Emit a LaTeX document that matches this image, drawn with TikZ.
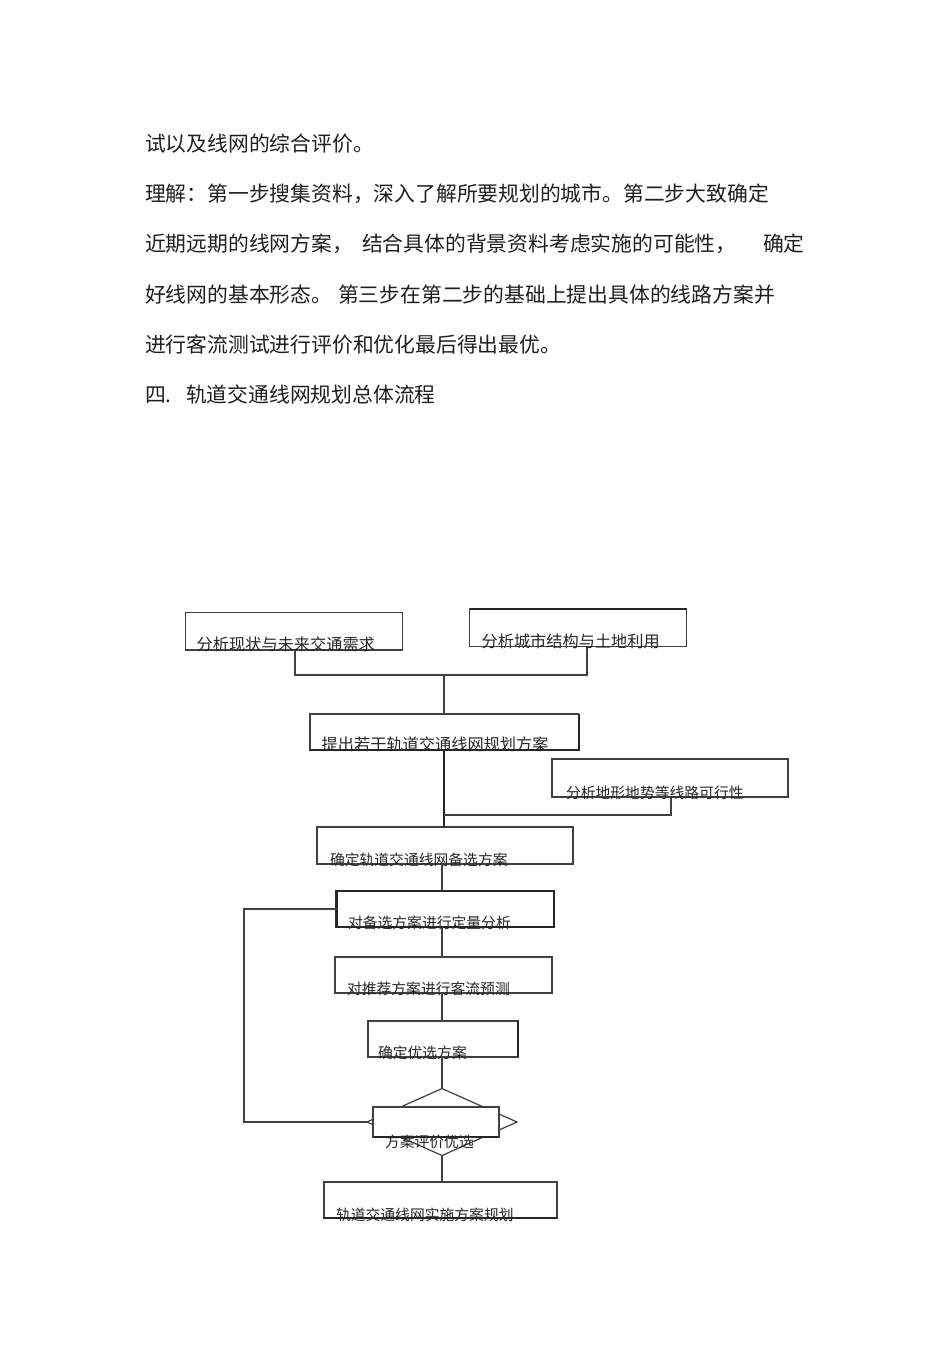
\documentclass[tikz,border=0pt]{standalone}
\usepackage{fontspec}
\setmainfont{Noto Sans CJK SC}
\usetikzlibrary{shapes.geometric,fit}
\newcommand{\fsz}[1]{\fontsize{#1}{#1}\selectfont}
\begin{document}
\begin{tikzpicture}[x=1pt,y=-1pt,
  ln/.style={draw=black!75, line width=1.2pt},
  thk/.style={draw=black!85, line width=2.6pt},
  bx/.style={draw=black!75, line width=1.2pt, rectangle, inner sep=0pt, outer sep=0pt},
  bodytxt/.style={anchor=base west, inner sep=0pt, outer sep=0pt, text=black!88, font=\fsz{20.8}},
  lblA/.style={anchor=base west, inner sep=0pt, outer sep=0pt, text=black!85, font=\fsz{16.2}},
  lblB/.style={anchor=base west, inner sep=0pt, outer sep=0pt, text=black!85, font=\fsz{14.8}}]
\path[fill=white] (0,0) rectangle (950,1345);
\useasboundingbox (0,0) rectangle (950,1345);

% body text
\node[bodytxt] (p1) at (145,151) {试以及线网的综合评价。};
\node[bodytxt] (p2) at (145,201.5) {理解：第一步搜集资料，深入了解所要规划的城市。第二步大致确定};
\node[bodytxt] (p3a) at (145,251.5) {近期远期的线网方案，};
\node[bodytxt] (p3b) at (362,251.5) {结合具体的背景资料考虑实施的可能性，};
\node[bodytxt] (p3c) at (763,251.5) {确定};
\node[bodytxt] (p4a) at (145,302) {好线网的基本形态。};
\node[bodytxt] (p4b) at (338,302) {第三步在第二步的基础上提出具体的线路方案并};
\node[bodytxt] (p5) at (145,352) {进行客流测试进行评价和优化最后得出最优。};
\node[bodytxt] (p6a) at (145,402) {四.};
\node[bodytxt] (p6b) at (186,402) {轨道交通线网规划总体流程};

% boxes
\node[bx, fit={(185.5,612.7) (402.7,650)}] (b1) {};
\node[bx, fit={(469.6,609) (686.5,646.8)}] (b2) {};
\draw[thk] (b2.north west) -- (b2.north east);
\node[bx, fit={(310,714) (578.5,750)}] (b3) {};
\draw[draw=black!85, line width=2pt] (b3.north east) -- (b3.south east) -- (b3.south west);
\node[bx, fit={(552,759) (788,797)}] (br) {};
\node[bx, fit={(317,827) (573,864)}] (b4) {};
\node[bx, draw=black!85, line width=2.4pt, fit={(336.5,891) (554,927)}] (b5) {};
\node[bx, fit={(335,957) (552,993)}] (b6) {};
\node[bx, fit={(368,1021) (518,1057)}] (b7) {};
\draw[draw=black!85, line width=2.2pt] (b7.north east) -- (b7.south east);
\node[diamond, draw=black!75, line width=1.2pt, minimum width=150pt, minimum height=67pt, inner sep=0pt, outer sep=0pt] (dm) at (442,1122) {};
\node[bx, fill=white, fit={(373,1107) (499,1137)}] (ov) {};
\draw[draw=black!85, line width=2pt] (ov.south west) -- (ov.south east);
\node[bx, fit={(324,1182) (557,1218)}] (b8) {};
\draw[draw=black!85, line width=1.8pt] (b8.south west) -- (b8.south east);

% connector coordinates
\coordinate (j1) at (295,675);
\coordinate (j2) at (587,675);
\coordinate (cx) at (444,0);
\coordinate (rc) at (671,815);
\coordinate (cy) at (442,0);
\coordinate (lp) at (244,1122);

% connectors
\draw[ln] (b1.south -| j1) -- (j1) -- (j2) -- (b2.south -| j2);
\draw[ln] (j1 -| cx) -- (b3.north -| cx);
\draw[thk] (b3.south -| cx) -- (b4.north -| cx);
\draw[ln] (br.south -| rc) -- (rc) -- (rc -| cx);
\draw[ln] (b4.south -| cy) -- (b5.north -| cy);
\draw[ln] (b5.south -| cy) -- (b6.north -| cy);
\draw[ln] (b6.south -| cy) -- (b7.north -| cy);
\draw[ln] (b7.south -| cy) -- (dm.north);
\draw[ln] (dm.south) -- (b8.north -| cy);
\draw[ln] (dm.west) -- (lp) |- (b5.west);

% labels
\node[lblA] (t1) at (196.7,650.8) {分析现状与未来交通需求};
\node[lblA] (t2) at (481.6,647.6) {分析城市结构与土地利用};
\node[lblA] (t3) at (321.7,750.8) {提出若干轨道交通线网规划方案};
\node[lblB] (tr) at (566,798.5) {分析地形地势等线路可行性};
\node[lblB] (t4) at (330,865.5) {确定轨道交通线网备选方案};
\node[lblB] (t5) at (348,928.5) {对备选方案进行定量分析};
\node[lblB] (t6) at (347,994.5) {对推荐方案进行客流预测};
\node[lblB] (t7) at (378,1058.5) {确定优选方案};
\node[lblB] (td) at (385,1147) {方案评价优选};
\node[lblB] (t8) at (336,1220) {轨道交通线网实施方案规划};
\end{tikzpicture}
\end{document}
